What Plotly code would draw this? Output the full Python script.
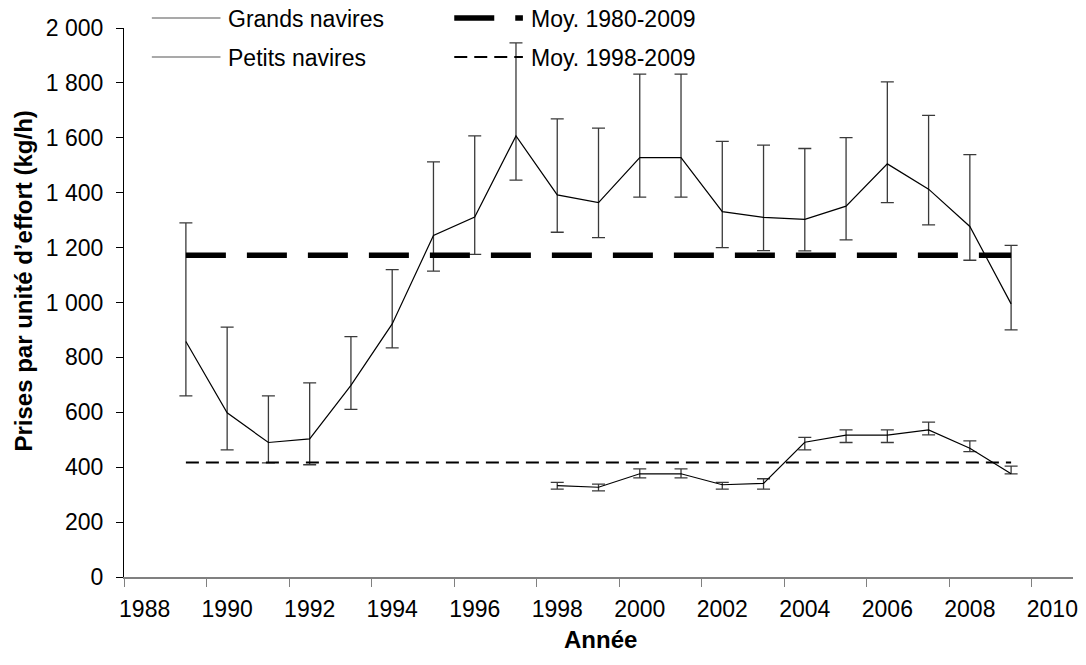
import plotly.graph_objects as go

# ---- data -------------------------------------------------------------
years_all = list(range(1988, 2011))          # category span of the x axis
tick_years = list(range(1988, 2011, 2))      # labelled years

years_gn = list(range(1989, 2010))
grands = [858, 598, 490, 503, 698, 922, 1244, 1311, 1607, 1392, 1364,
          1528, 1528, 1331, 1310, 1303, 1351, 1505, 1413, 1277, 995]
grands_hi = [1290, 910, 660, 707, 876, 1120, 1512, 1607, 1946, 1669, 1635,
             1832, 1832, 1587, 1573, 1561, 1601, 1804, 1682, 1539, 1208]
grands_lo = [660, 463, 416, 409, 611, 835, 1114, 1175, 1446, 1256, 1236,
             1384, 1384, 1200, 1189, 1188, 1228, 1364, 1283, 1154, 900]

years_pn = list(range(1998, 2010))
petits = [333, 327, 376, 376, 336, 341, 491, 517, 517, 536, 469, 376]
petits_hi = [345, 338, 394, 394, 345, 358, 509, 536, 536, 564, 496, 404]
petits_lo = [320, 314, 361, 361, 320, 320, 463, 490, 490, 518, 457, 376]

moy_1980_2009 = 1172
moy_1998_2009 = 417

# ---- geometry helpers (layout only) ----------------------------------
W, H = 1086, 665
ML, MR, MT, MB = 124, 8, 28, 88
PW, PH = W - ML - MR, H - MT - MB


def px(x):
    return (x - ML) / PW


def py(y):
    return (H - MB - y) / PH


FONT = "Liberation Sans, Arial, sans-serif"

fig = go.Figure()

err_style = dict(type="data", symmetric=False, color="#3a3a3a",
                 thickness=1.3, width=6.5)

fig.add_trace(go.Scatter(
    x=years_gn, y=grands, mode="lines",
    line=dict(color="black", width=1.2),
    error_y=dict(array=[h - v for h, v in zip(grands_hi, grands)],
                 arrayminus=[v - l for v, l in zip(grands, grands_lo)],
                 **err_style),
    showlegend=False))

fig.add_trace(go.Scatter(
    x=years_pn, y=petits, mode="lines",
    line=dict(color="black", width=1.2),
    error_y=dict(array=[h - v for h, v in zip(petits_hi, petits)],
                 arrayminus=[v - l for v, l in zip(petits, petits_lo)],
                 **err_style),
    showlegend=False))

fig.add_trace(go.Scatter(
    x=years_gn, y=[moy_1980_2009] * len(years_gn), mode="lines",
    line=dict(color="black", width=5.5, dash="40px,21px"),
    showlegend=False))

fig.add_trace(go.Scatter(
    x=years_gn, y=[moy_1998_2009] * len(years_gn), mode="lines",
    line=dict(color="black", width=2, dash="13px,7px"),
    showlegend=False))

# ---- hand-built legend (two columns, two rows) -----------------------
legend_items = [
    ("Grands navires", 152, 18, dict(color="#555", width=1.2)),
    ("Petits navires", 152, 57, dict(color="#555", width=1.2)),
    ("Moy. 1980-2009", 456, 18, dict(color="black", width=5.5, dash="40px,21px")),
    ("Moy. 1998-2009", 456, 57, dict(color="black", width=2, dash="13px,7px")),
]
shapes = []
annotations = []
for label, x0, yc, style in legend_items:
    shapes.append(dict(type="line", xref="paper", yref="paper",
                       x0=px(x0), x1=px(x0 + 69), y0=py(yc), y1=py(yc),
                       line=style))
    annotations.append(dict(text=label, xref="paper", yref="paper",
                            x=px(x0 + 75), y=py(yc + 1), xanchor="left",
                            yanchor="middle", showarrow=False,
                            font=dict(family=FONT, size=23, color="black")))

annotations.append(dict(text="<b>Prises par unité d’effort (kg/h)</b>",
                        xref="paper", yref="paper", x=px(22), y=py(281),
                        xanchor="center", yanchor="middle", textangle=-90,
                        showarrow=False,
                        font=dict(family=FONT, size=24, color="black")))
annotations.append(dict(text="<b>Année</b>", xref="paper", yref="paper",
                        x=px(603), y=py(639), xanchor="center",
                        yanchor="middle", showarrow=False,
                        font=dict(family=FONT, size=24, color="black")))

fig.update_layout(
    width=W, height=H,
    margin=dict(l=ML, r=MR, t=MT, b=MB, pad=0),
    paper_bgcolor="white", plot_bgcolor="white",
    font=dict(family=FONT, size=23, color="black"),
    separators=", ",
    showlegend=False,
    shapes=shapes,
    annotations=annotations,
    xaxis=dict(
        range=[years_all[0] - 0.5, years_all[-1] + 0.5],
        tickmode="array", tickvals=tick_years,
        ticktext=[str(y) for y in tick_years],
        ticks="", showgrid=False, zeroline=False,
        showline=True, linecolor="#808080", linewidth=1.5,
        ticklabelstandoff=11,
        minor=dict(tickmode="array",
                   tickvals=[y - 0.5 for y in tick_years],
                   ticks="outside", ticklen=8, tickwidth=1.2,
                   tickcolor="#808080", showgrid=False),
        tickfont=dict(family=FONT, size=23, color="black"),
    ),
    yaxis=dict(
        range=[0, 2000], tickmode="linear", tick0=0, dtick=200,
        separatethousands=True, tickformat=",d",
        ticks="outside", ticklen=7, tickwidth=1.2, tickcolor="black",
        showgrid=False, zeroline=False,
        showline=True, linecolor="black", linewidth=1.2,
        ticklabelstandoff=8,
        tickfont=dict(family=FONT, size=23, color="black"),
    ),
)

fig.write_html("out.html")
